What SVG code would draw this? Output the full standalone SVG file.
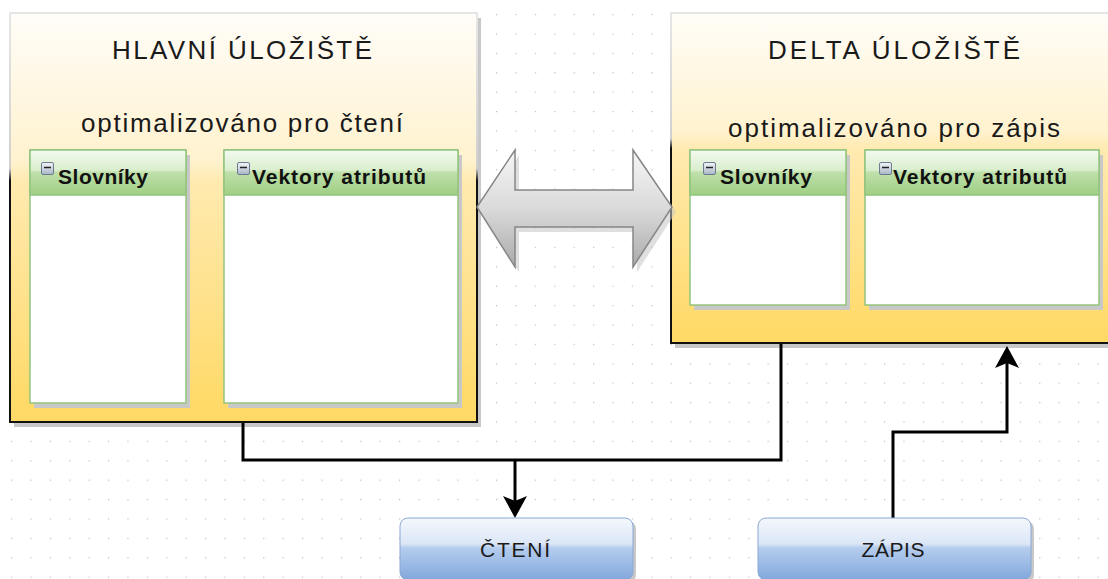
<svg xmlns="http://www.w3.org/2000/svg" width="1108" height="579" viewBox="0 0 1108 579">
<style>
.title{font-family:"Liberation Sans",Arial,sans-serif;font-size:26px;fill:#1a1a1a;text-anchor:middle}
.hdr{font-family:"Liberation Sans",Arial,sans-serif;font-size:21px;font-weight:bold;fill:#111}
.btn{font-family:"Liberation Sans",Arial,sans-serif;font-size:21px;fill:#1a1a1a;text-anchor:middle}
.shadow{fill:#c8c8c8}
.panel{fill:#fff;stroke:#93c47d;stroke-width:1.5}
.phead{fill:url(#headG);stroke:#93c47d;stroke-width:1.5}
.icon{fill:url(#iconG);stroke:#6d7c92;stroke-width:1}
.minus{stroke:#222;stroke-width:1.5}
.conn{fill:none;stroke:#000;stroke-width:3}
.store{fill:url(#storeG);stroke:url(#storeS);stroke-width:2}
.button{fill:url(#btnG);stroke:#8aa8d6;stroke-width:1}
</style>
<defs>
<pattern id="grid" x="11" y="14" width="19.4" height="19.4" patternUnits="userSpaceOnUse"><rect width="1.2" height="1.2" fill="#bcbcbc"/></pattern>
<linearGradient id="storeG" x1="0" y1="0" x2="0" y2="1">
<stop offset="0" stop-color="#fffdf8"/><stop offset="0.36" stop-color="#fff2cf"/><stop offset="0.41" stop-color="#ffeab0"/><stop offset="1" stop-color="#ffd964"/>
</linearGradient>
<linearGradient id="storeS" x1="0" y1="0" x2="0" y2="1">
<stop offset="0" stop-color="#e6e6e6"/><stop offset="0.38" stop-color="#d0d0d0"/><stop offset="0.41" stop-color="#111"/><stop offset="1" stop-color="#111"/>
</linearGradient>
<linearGradient id="headG" x1="0" y1="0" x2="0" y2="1">
<stop offset="0" stop-color="#f4faf1"/><stop offset="0.45" stop-color="#d9eecd"/><stop offset="0.5" stop-color="#bfe0aa"/><stop offset="1" stop-color="#9fcf84"/>
</linearGradient>
<linearGradient id="iconG" x1="0" y1="0" x2="0" y2="1">
<stop offset="0" stop-color="#f2f5f9"/><stop offset="1" stop-color="#a8b5c6"/>
</linearGradient>
<linearGradient id="arrowG" x1="0" y1="0" x2="0" y2="1">
<stop offset="0" stop-color="#f6f6f6"/><stop offset="0.5" stop-color="#dadada"/><stop offset="1" stop-color="#aaaaaa"/>
</linearGradient>
<linearGradient id="btnG" x1="0" y1="0" x2="0" y2="1">
<stop offset="0" stop-color="#f4f8fd"/><stop offset="0.42" stop-color="#dbe6f6"/><stop offset="0.48" stop-color="#b5cdee"/><stop offset="1" stop-color="#82a7dc"/>
</linearGradient>
<marker id="arr" viewBox="0 -12 22 24" markerWidth="22" markerHeight="24" refX="14" refY="0" orient="auto" markerUnits="userSpaceOnUse">
<path d="M0,-12 L22,0 L0,12 L5,0 Z" fill="#000"/>
</marker>
</defs>
<rect width="1108" height="579" fill="#fff"/>
<rect width="1108" height="579" fill="url(#grid)"/>

<g id="main-store">
<rect class="shadow" x="14" y="18" width="467" height="409"/>
<rect class="store" x="10" y="13" width="467" height="409"/>
<text class="title" x="242" y="59" textLength="260">HLAVNÍ ÚLOŽIŠTĚ</text>
<text class="title" x="242" y="132" textLength="322">optimalizováno pro čtení</text>
<g id="main-dict">
<rect class="shadow" x="34" y="155" width="156" height="253"/>
<rect class="panel" x="30" y="150" width="156" height="253"/>
<rect class="phead" x="30" y="150" width="156" height="45"/>
<rect class="icon" x="41.5" y="162.5" width="12" height="12" rx="1.5"/>
<line class="minus" x1="44" y1="167.5" x2="51" y2="167.5"/>
<text class="hdr" x="58" y="184" textLength="90">Slovníky</text>
</g>
<g id="main-vectors">
<rect class="shadow" x="228" y="155" width="234" height="253"/>
<rect class="panel" x="224" y="150" width="234" height="253"/>
<rect class="phead" x="224" y="150" width="234" height="45"/>
<rect class="icon" x="237.5" y="162.5" width="12" height="12" rx="1.5"/>
<line class="minus" x1="240" y1="167.5" x2="247" y2="167.5"/>
<text class="hdr" x="252" y="184" textLength="174">Vektory atributů</text>
</g>
</g>

<g id="delta-store">
<rect class="shadow" x="675" y="18" width="450" height="330"/>
<rect class="store" x="671" y="13" width="450" height="330"/>
<text class="title" x="894" y="59" textLength="252">DELTA ÚLOŽIŠTĚ</text>
<text class="title" x="894" y="137" textLength="332">optimalizováno pro zápis</text>
<g id="delta-dict">
<rect class="shadow" x="694" y="155" width="156" height="155"/>
<rect class="panel" x="690" y="150" width="156" height="155"/>
<rect class="phead" x="690" y="150" width="156" height="45"/>
<rect class="icon" x="703.5" y="162.5" width="12" height="12" rx="1.5"/>
<line class="minus" x1="706" y1="167.5" x2="713" y2="167.5"/>
<text class="hdr" x="720" y="184" textLength="92">Slovníky</text>
</g>
<g id="delta-vectors">
<rect class="shadow" x="869" y="155" width="234" height="155"/>
<rect class="panel" x="865" y="150" width="234" height="155"/>
<rect class="phead" x="865" y="150" width="234" height="45"/>
<rect class="icon" x="879.5" y="162.5" width="12" height="12" rx="1.5"/>
<line class="minus" x1="882" y1="167.5" x2="889" y2="167.5"/>
<text class="hdr" x="893" y="184" textLength="174">Vektory atributů</text>
</g>
</g>

<g id="sync-arrow">
<polygon points="477,207 515,150 515,190 633,190 633,150 672,207 633,267 633,227 515,227 515,267" transform="translate(4,5)" fill="#c4c4c4" opacity="0.55"/>
<polygon points="477,207 515,150 515,190 633,190 633,150 672,207 633,267 633,227 515,227 515,267" fill="url(#arrowG)" stroke="#868686" stroke-width="1.5"/>
</g>

<g id="connectors">
<path class="conn" d="M243,423 V460 H781 V344"/>
<path class="conn" d="M515,460 V510" marker-end="url(#arr)"/>
<path class="conn" d="M893,518 V432 H1007 V354" marker-end="url(#arr)"/>
</g>

<g id="read">
<rect class="shadow" x="403" y="521" width="233" height="62" rx="8"/>
<rect class="button" x="400" y="518" width="233" height="62" rx="8"/>
<text class="btn" x="515" y="557" textLength="70">ČTENÍ</text>
</g>
<g id="write">
<rect class="shadow" x="761" y="521" width="273" height="62" rx="8"/>
<rect class="button" x="758" y="518" width="273" height="62" rx="8"/>
<text class="btn" x="893" y="557" textLength="63">ZÁPIS</text>
</g>
</svg>
